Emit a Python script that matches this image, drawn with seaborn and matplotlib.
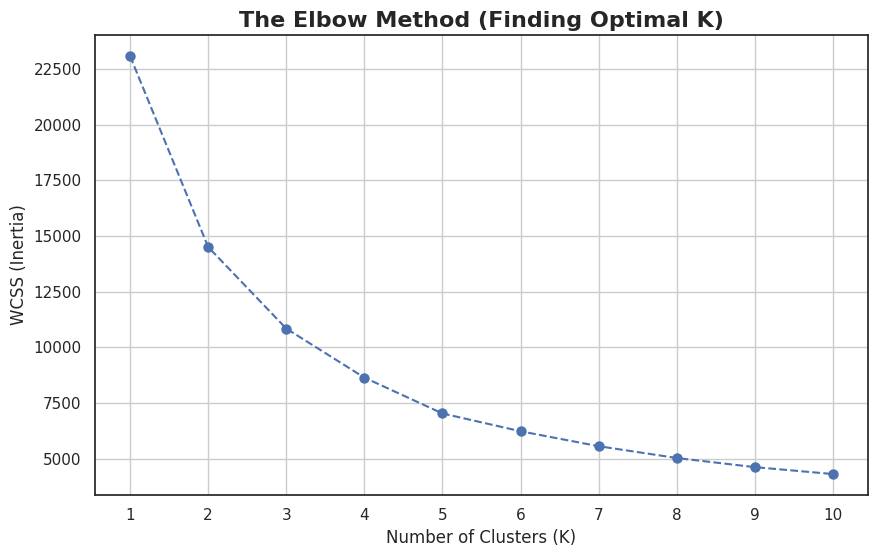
import matplotlib
matplotlib.use("Agg")
import matplotlib.pyplot as plt
import seaborn as sns

# ==================== Data ====================
k_values = [1, 2, 3, 4, 5, 6, 7, 8, 9, 10]
wcss = [23080, 14510, 10850, 8650, 7040, 6240, 5570, 5040, 4630, 4320]

# ==================== Plot ====================
sns.set_theme(style="white")

fig, ax = plt.subplots(figsize=(8.79, 5.58), dpi=100)
sns.lineplot(x=k_values, y=wcss, marker='o', linestyle='--', color='#4c72b0',
             markersize=7.5, markeredgewidth=0, ax=ax)
ax.grid(True)
ax.set_xticks(k_values)
ax.set_title('The Elbow Method (Finding Optimal K)', fontsize=16, fontweight='bold')
ax.set_xlabel('Number of Clusters (K)')
ax.set_ylabel('WCSS (Inertia)')
fig.subplots_adjust(left=0.108, right=0.9875, top=0.937, bottom=0.113)
plt.savefig("out.png")
